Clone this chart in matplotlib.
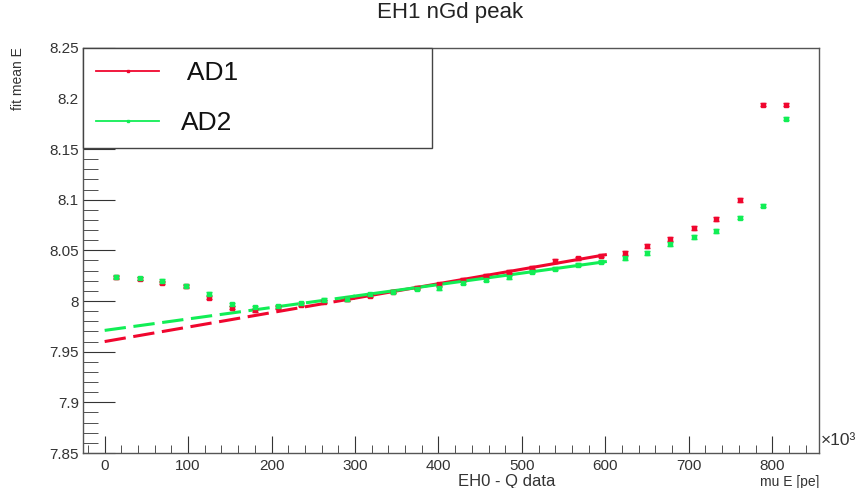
import numpy as np
import matplotlib.pyplot as plt
from matplotlib.lines import Line2D
from matplotlib.ticker import MultipleLocator

plt.rcParams['font.family'] = ['Liberation Sans', 'DejaVu Sans']

# bin centres of mu E, in units of 10^3 pe
mu_e = [14, 42, 69, 97, 125, 152, 180, 208, 235, 263, 291, 318, 346, 374, 401,
        429, 457, 484, 512, 540, 567, 595, 623, 650, 678, 706, 733, 761, 789, 816]
ad1 = [8.0235, 8.0220, 8.0180, 8.0145, 8.0030, 7.9935, 7.9910, 7.9940, 7.9962, 7.9993,
       8.0015, 8.0050, 8.0090, 8.0130, 8.0165, 8.0210, 8.0250, 8.0290, 8.0330, 8.0395,
       8.0420, 8.0447, 8.0470, 8.0546, 8.0610, 8.0718, 8.0807, 8.0997, 8.1935, 8.1935]
ad2 = [8.0240, 8.0225, 8.0198, 8.0150, 8.0070, 7.9970, 7.9938, 7.9950, 7.9980, 8.0010,
       8.0020, 8.0065, 8.0090, 8.0120, 8.0125, 8.0180, 8.0210, 8.0234, 8.0290, 8.0320,
       8.0356, 8.0388, 8.0420, 8.0470, 8.0560, 8.0635, 8.0690, 8.0820, 8.0940, 8.1800]
ad1_err = [0.0015] * 22 + [0.002, 0.002, 0.002, 0.002, 0.002, 0.002, 0.0015, 0.0015]
ad2_err = [0.0015] * 22 + [0.002, 0.002, 0.002, 0.002, 0.002, 0.0015, 0.0015, 0.0015]

# linear fits (intercept, slope per 10^3 pe)
fit_ad1 = (7.960, 1.427e-4)
fit_ad2 = (7.971, 1.130e-4)
fit_lo, fit_mid, fit_hi = 0, 300, 600

red = '#f0062e'
green = '#11ee55'

fig = plt.figure(figsize=(8.58, 4.88), dpi=100)
ax = fig.add_axes([0.0967, 0.0717, 0.8578, 0.8306])

handles = []
for vals, err, fit, c, lab in [(ad1, ad1_err, fit_ad1, red, ' AD1'),
                               (ad2, ad2_err, fit_ad2, green, 'AD2')]:
    ax.errorbar(mu_e, vals, yerr=err, fmt='s', ms=3, color=c, ecolor=c,
                elinewidth=1, capsize=2, zorder=3)
    xd = np.array([fit_lo, fit_mid])
    xs = np.array([fit_mid, fit_hi])
    ax.plot(xd, fit[0] + fit[1] * xd, color=c, lw=2.2, ls=(0, (7, 2.5)), zorder=2)
    ax.plot(xs, fit[0] + fit[1] * xs, color=c, lw=2.2, zorder=2)
    handles.append(Line2D([], [], color=c, lw=1.3, marker='s', ms=1.5, label=lab))

ax.set_xlim(-26, 856)
ax.set_ylim(7.85, 8.25)
ax.xaxis.set_major_locator(MultipleLocator(100))
ax.xaxis.set_minor_locator(MultipleLocator(20))
ax.yaxis.set_minor_locator(MultipleLocator(0.01))
ax.set_yticks(np.arange(7.85, 8.2501, 0.05))
ax.set_yticklabels(['7.85', '7.9', '7.95', '8', '8.05', '8.1', '8.15', '8.2', '8.25'])
ax.tick_params(which='both', direction='in', top=False, right=False,
               labelsize=11, colors='#333333', labelcolor='#333333')
ax.tick_params(axis='x', which='major', length=12, pad=4)
ax.tick_params(axis='x', which='minor', length=6)
ax.tick_params(axis='y', which='major', length=23, pad=3)
ax.tick_params(axis='y', which='minor', length=11)
for s in ax.spines.values():
    s.set_color('#555555')
    s.set_linewidth(1)

leg = ax.legend(handles=handles, loc='upper left', bbox_to_anchor=(0, 0.7, 0.474, 0.3),
                mode='expand', borderaxespad=0, fontsize=19, handlelength=2.4,
                handletextpad=0.8, labelspacing=1.0, borderpad=0.5, fancybox=False,
                framealpha=1, edgecolor='#444444')
leg.get_frame().set_linewidth(1)
for t in leg.get_texts():
    t.set_color('#111111')

fig.text(0.525, 0.975, 'EH1 nGd peak', ha='center', va='center', fontsize=16, color='#222222')
fig.text(0.021, 0.903, 'fit mean E', rotation=90, ha='center', va='top', fontsize=10,
         color='#333333')
fig.text(0.957, 0.097, '×10³', ha='left', va='center', fontsize=12.5, color='#333333')
fig.text(0.9545, 0.013, 'mu E [pe]', ha='right', va='center', fontsize=10, color='#333333')
fig.text(0.59, 0.013, 'EH0 - Q data', ha='center', va='center', fontsize=12,
         color='#333333')

fig.savefig('out.png', dpi=100)
